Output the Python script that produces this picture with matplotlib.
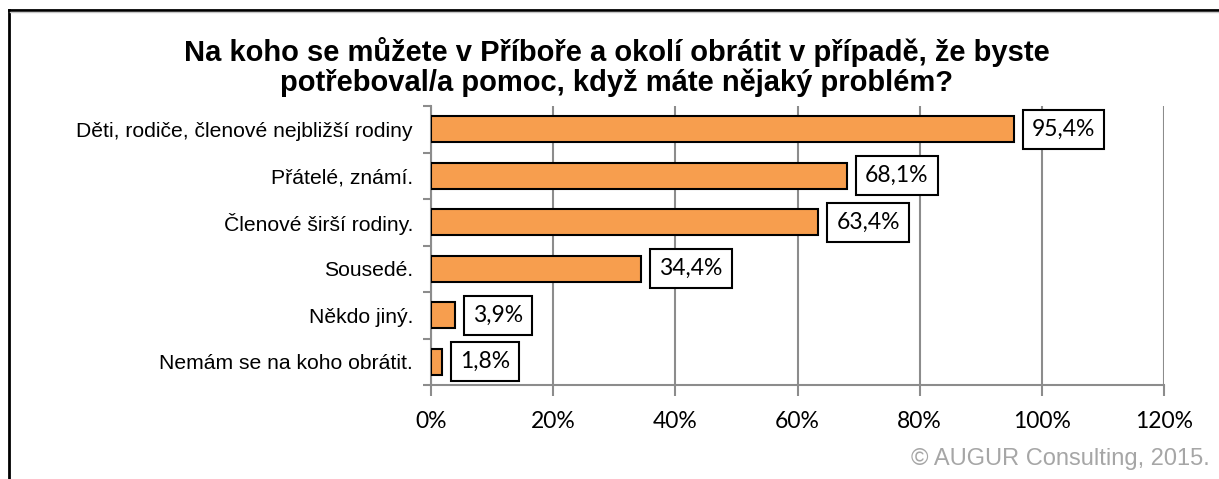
import matplotlib.pyplot as plt
from matplotlib.lines import Line2D

# data
categories = [
    'Děti, rodiče, členové nejbližší rodiny',
    'Přátelé, známí.',
    'Členové širší rodiny.',
    'Sousedé.',
    'Někdo jiný.',
    'Nemám se na koho obrátit.',
]
values = [95.4, 68.1, 63.4, 34.4, 3.9, 1.8]
x_ticks = [0, 20, 40, 60, 80, 100, 120]
x_tick_labels = ['0%', '20%', '40%', '60%', '80%', '100%', '120%']

W, H = 1219, 479
fig = plt.figure(figsize=(W / 100, H / 100), dpi=100)

# axes placed in pixel coordinates
left, right, top, bottom = 431, 1164, 106, 385
ax = fig.add_axes([left / W, 1 - bottom / H, (right - left) / W, (bottom - top) / H])

n = len(categories)
ypos = list(range(n))
ax.barh(ypos, values, height=0.56, color='#F79E4E', edgecolor='black', linewidth=1.5, zorder=3)
ax.set_ylim(n - 0.5, -0.5)
ax.set_xlim(0, 120)

# gridlines
ax.set_xticks(x_ticks)
ax.set_xticklabels(x_tick_labels, fontfamily='Lato', fontsize=16.5)
ax.xaxis.grid(True, color='#8c8c8c', linewidth=1.5, zorder=0)
ax.tick_params(axis='x', length=8, width=1.5, color='#8c8c8c', pad=11)

ax.set_yticks(ypos)
ax.set_yticklabels(categories, fontfamily='Liberation Sans', fontsize=15.2)
ax.set_yticks([i - 0.5 for i in range(n + 1)], minor=True)
ax.tick_params(axis='y', which='major', length=0, pad=13)
ax.tick_params(axis='y', which='minor', length=6, width=1.5, color='#8c8c8c')

for s in ['top', 'right']:
    ax.spines[s].set_visible(False)
for s in ['left', 'bottom']:
    ax.spines[s].set_color('#8c8c8c')
    ax.spines[s].set_linewidth(1.5)

# value labels in boxes
for y, v in zip(ypos, values):
    ax.annotate(f'{v:.1f}%'.replace('.', ','), xy=(v, y), xytext=(18, 0),
                textcoords='offset pixels', ha='left', va='center',
                fontfamily='Lato', fontsize=16.5, zorder=5,
                bbox=dict(boxstyle='square,pad=0.4', fc='white', ec='black', lw=1.5))

# title
fig.text(617 / W, 1 - 67 / H,
         'Na koho se můžete v Příboře a okolí obrátit v případě, že byste\npotřeboval/a pomoc, když máte nějaký problém?',
         ha='center', va='center', fontfamily='Liberation Sans', fontweight='bold',
         fontsize=21, linespacing=1.1)

# copyright
fig.text(1210 / W, 1 - 459 / H, '© AUGUR Consulting, 2015.', ha='right', va='center',
         fontfamily='Liberation Sans', fontsize=17, color='#a6a6a6')

# outer frame (cropped on right and bottom)
fig.add_artist(Line2D([9 / W, 1.0], [1 - 10 / H, 1 - 10 / H], color='black', lw=2, transform=fig.transFigure))
fig.add_artist(Line2D([9 / W, 9 / W], [0, 1 - 10 / H], color='black', lw=2, transform=fig.transFigure))
fig.add_artist(Line2D([10 / W, 1.0], [1 - 12 / H, 1 - 12 / H], color='#c8c8c8', lw=1, transform=fig.transFigure))

fig.savefig('out.png', dpi=100)
